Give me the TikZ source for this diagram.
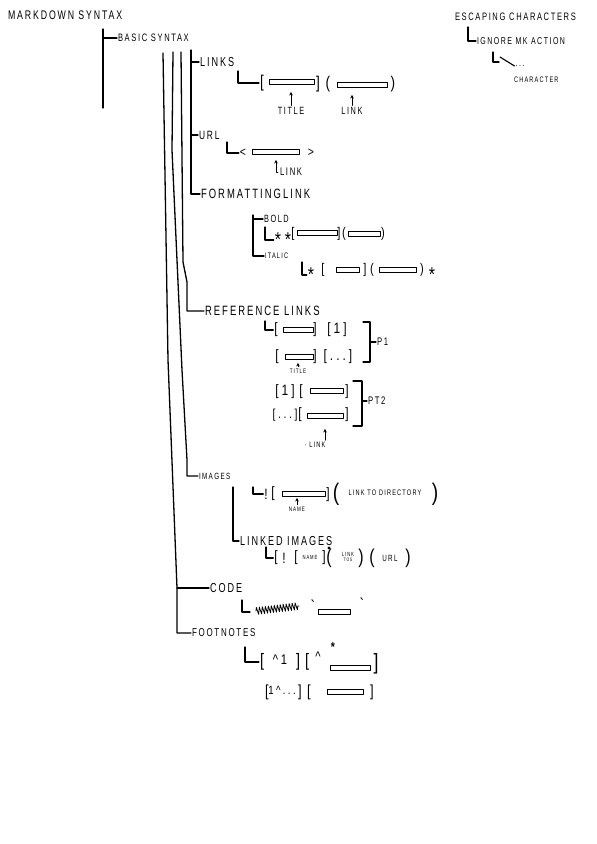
\documentclass[tikz,border=0pt]{standalone}
\usepackage{fontspec}
\usepackage{tikz}
\usetikzlibrary{arrows.meta,positioning,decorations.pathmorphing}
\newfontfamily\hand[FakeStretch=0.7,LetterSpace=15]{Liberation Sans}
\newfontfamily\handsym[FakeStretch=0.8,LetterSpace=20]{Liberation Sans}
\tikzset{
    every picture/.style={line cap=round,line join=round},
    hw/.style={font=\hand\fontsize{#1}{#1}\selectfont,anchor=west,inner sep=.5pt},
    sym/.style={font=\handsym\fontsize{#1}{#1}\selectfont,inner sep=.5pt},
    sym/.default=17,
    slot/.style={draw,line width=.9pt,minimum width=#1,minimum height=5pt,inner sep=0pt},
    upar/.style={-{Stealth[length=3.5pt,width=3.5pt]},line width=.9pt,shorten <=1pt},
    trunk/.style={line width=1.3pt},
    scrib/.style={decorate,decoration={zigzag,segment length=3pt,amplitude=3.5pt},line width=.8pt}
}

\begin{document}
\begin{tikzpicture}[x=1pt,y=-1pt,line width=1.1pt]
  \fill[white] (0,0) rectangle (597,844);
  \useasboundingbox (0,0) rectangle (597,844);

  % root and basic syntax
  \node[hw=12.5] (md) at (7,15) {MARKDOWN SYNTAX};
  \node[hw=10.8] (basic) at (117,38) {BASIC SYNTAX};
  \coordinate (t0) at (103,29);
  \draw[trunk] (t0) -- ++(0,79);
  \draw[trunk] (t0 |- basic.west) -- (basic.west);

  % escaping
  \node[hw=10.8] (esc) at (454,17) {ESCAPING CHARACTERS};
  \node[hw=10] (ign) at (476,41) {IGNORE MK ACTION};
  \node[hw=10,anchor=center] (dots) at (520,66) {...};
  \node[hw=8] (chr) at (513,80) {CHARACTER};
  \coordinate (e0) at (468,27);
  \coordinate (e1) at (493,52);
  \coordinate (e2) at (500,57);
  \draw (e0) |- (ign.west);
  \draw (e1) |- ++(6,10);
  \draw (e2) -- (dots.west);

  % the four trunks
  \coordinate (tA) at (163,53);
  \coordinate (tB) at (173,52);
  \coordinate (tC) at (181,52);
  \coordinate (tD) at (191,50);
  \coordinate (cA) at (177,588);
  \node[hw=13] (links) at (199,62) {LINKS};
  \node[hw=12] (url) at (198,135) {URL};
  \node[hw=13.5] (fmt) at (200,194) {FORMATTINGLINK};
  \node[hw=13.5] (ref) at (204,311) {REFERENCE LINKS};
  \node[hw=9] (img) at (198,476) {IMAGES};
  \node[hw=13] (code) at (209,588) {CODE};
  \node[hw=11.4] (foot) at (191,633) {FOOTNOTES};
  \draw[trunk] (tD) |- (fmt.west);
  \draw[trunk] (tD |- links.west) -- (links.west);
  \draw[trunk] (tD |- url.west) -- (url.west);
  \draw[trunk] (tC) -- (183,262) -- (187,282) |- (ref.west);
  \draw[trunk] (tB) -- (172,150) -- (182,370) -- (187,460) |- (img.west);
  \draw[trunk] (tA) -- (168,360) -- (cA) |- (foot.west);
  \draw[trunk] (cA) -- (code.west);

  % links
  \coordinate (lk0) at (238,71);
  \node[sym] (lk1) at (262,83) {[};
  \node[slot=45pt] (lkt) at (292,82) {};
  \node[sym] (lk2) at (318,84) {]};
  \node[sym] (lk3) at (328,84) {(};
  \node[slot=50pt] (lkl) at (362,85) {};
  \node[sym] (lk4) at (393,84) {)};
  \draw (lk0) |- (lk1.west);
  \node[hw=10.5,anchor=center] (ttl) at (291,111) {TITLE};
  \node[hw=10.5,anchor=center] (lnk) at (352,111) {LINK};
  \draw[upar,shorten >=7pt] (ttl.north) -- (ttl.north |- lkt.south);
  \draw[upar,shorten >=7pt] (lnk.north) -- (lnk.north |- lkl.south);

  % url
  \coordinate (u0) at (227,142);
  \node[sym=13] (u1) at (243,153) {<};
  \node[slot=47pt] (ut) at (276,152) {};
  \node[sym=13] (u2) at (311,153) {>};
  \draw (u0) |- (u1.west);
  \node[hw=11] (ul) at (279,172) {LINK};
  \draw[upar,shorten >=5pt] (ul.west) -| (ut.south);

  % formatting
  \node[hw=10.5] (bold) at (263,219) {BOLD};
  \node[hw=8] (itl) at (264,256) {ITALIC};
  \draw ([xshift=-10pt,yshift=4pt]bold.west) |- (itl.west);
  \draw ([xshift=-10pt]bold.west) -- (bold.west);
  \coordinate (b0) at (265,227);
  \node[sym=20] (b1) at (283,240) {**};
  \node[sym=14] (b2) at (293,234) {[};
  \node[slot=40pt] (bt) at (317,233) {};
  \node[sym=14] (b3) at (339,234) {]};
  \node[sym=14] (b4) at (344,234) {(};
  \node[slot=32pt] (bl) at (364,234) {};
  \node[sym=14] (b5) at (383,234) {)};
  \draw (b0) |- (b1.west);
  \coordinate (i0) at (302,262);
  \node[sym=20] (i1) at (311,275) {*};
  \node[sym=14] (i2) at (323,270) {[};
  \node[slot=23pt] (it) at (348,270) {};
  \node[sym=14] (i3) at (365,270) {]};
  \node[sym=14] (i4) at (372,270) {(};
  \node[slot=37pt] (il) at (398,270) {};
  \node[sym=14] (i5) at (422,270) {)};
  \node[sym=20] (i6) at (432,275) {*};
  \draw (i0) |- (i1.west);

  % reference links
  \coordinate (r0) at (265,321);
  \node[sym=15] (r1) at (276,330) {[};
  \node[slot=30pt] (rt1) at (298,330) {};
  \node[sym=15] (r2) at (315,330) {]};
  \node[sym=15] (r3) at (337,330) {[1]};
  \draw (r0) |- (r1.west);
  \node[sym=15] (r4) at (277,357) {[};
  \node[slot=28pt] (rt2) at (299,357) {};
  \node[sym=15] (r5) at (315,357) {]};
  \node[sym=15] (r6) at (338,357) {[...]};
  \node[hw=6.5,anchor=center] (rtt) at (298,371) {TITLE};
  \draw[upar,shorten >=3pt] (rtt.north) -- (rtt.north |- rt2.south);
  \node[hw=11] (p1) at (376,342) {P1};
  \draw (363,322) -| (370,362) -- ++(-7,0);
  \draw (370,342) -- (p1.west);
  \node[sym=15] (r7) at (285,392) {[1]};
  \node[sym=15] (r8) at (301,392) {[};
  \node[slot=33pt] (rl1) at (327,391) {};
  \node[sym=15] (r9) at (347,392) {]};
  \node[sym=13] (r10) at (285,415) {[...]};
  \node[sym=15] (r11) at (300,415) {[};
  \node[slot=36pt] (rl2) at (325,416) {};
  \node[sym=15] (r12) at (347,415) {]};
  \node[hw=8,anchor=center] (rll) at (315,445) {· LINK};
  \draw[upar,shorten >=10pt] (rl2.south |- rll.north) -- (rl2.south);
  \node[hw=11] (pt2) at (367,401) {PT2};
  \draw (353,381) -| (362,426) -- ++(-9,0);
  \draw (362,401) -- (pt2.west);

  % images
  \node[hw=13] (limg) at (239,541) {LINKED IMAGES};
  \coordinate (m0) at (233,487);
  \draw (m0) |- (limg.west);
  \coordinate (m1) at (253,487);
  \node[sym=15] (m2) at (266,494) {!};
  \node[sym=15] (m3) at (273,494) {[};
  \node[slot=43pt] (mt) at (304,494) {};
  \node[sym=15] (m4) at (328,495) {]};
  \node[sym=24] (m5) at (336,494) {(};
  \node[hw=8,anchor=center] (mdir) at (385,493) {LINK TO DIRECTORY};
  \node[sym=24] (m6) at (435,494) {)};
  \draw (m1) |- (m2.west);
  \node[hw=6.5,anchor=center] (mnm) at (297,509) {NAME};
  \draw[upar,shorten >=1pt] (mnm.north) -- (mnm.north |- mt.south);
  \coordinate (n0) at (266,547);
  \node[sym=15] (n1) at (276,558) {[};
  \node[sym=15] (n2) at (284,558) {!};
  \node[sym=15] (n3) at (296,558) {[};
  \node[hw=6,anchor=center] (nnm) at (310,557) {NAME};
  \node[sym=15] (n4) at (324,558) {]};
  \node[sym=20,inner xsep=0pt] (n5) at (329,558) {(};
  \fill (329,548) circle (1.6);
  \node[hw=6,anchor=center,align=center] (nlk) at (348,557)
    {LINK\\[-1pt]{\fontsize{5}{5}\selectfont TOS}};
  \node[sym=20] (n6) at (361,558) {)};
  \node[sym=20] (n7) at (372,558) {(};
  \node[hw=9,anchor=center] (nurl) at (390,558) {URL};
  \node[sym=20] (n8) at (408,558) {)};
  \draw (n0) |- (n1.west);

  % code
  \coordinate (c0) at (242,600);
  \coordinate (c1) at (250,612);
  \draw (c0) |- (c1);
  \draw[scrib] (256,611) -- (299,606);
  \node[sym] (c2) at (313,606) {`};
  \node[slot=32pt] (ct) at (334,612) {};
  \node[sym] (c3) at (362,604) {`};

  % footnotes
  \coordinate (f0) at (245,647);
  \node[sym=18] (f1) at (262,662) {[};
  \node[sym=14] (f2) at (280,660) {\textasciicircum 1};
  \node[sym=18] (f3) at (298,662) {]};
  \node[sym=18] (f4) at (307,662) {[};
  \node[sym=14] (f5) at (318,657) {\textasciicircum};
  \node[slot=40pt] (ft) at (350,668) {};
  \node[sym=22] (f6) at (376,664) {]};
  \node[font=\handsym\bfseries\fontsize{13}{13}\selectfont,inner sep=.5pt] (f7) at (333,647) {*};
  \draw (f0) |- (f1.west);
  \node[sym=16] (f8) at (267,692) {[};
  \node[sym=12] (f9) at (282,690) {1\textasciicircum...};
  \node[sym=16] (f10) at (300,692) {]};
  \node[sym=16] (f11) at (309,692) {[};
  \node[slot=36pt] (fl) at (345,692) {};
  \node[sym=16] (f12) at (372,692) {]};
\end{tikzpicture}
\end{document}
